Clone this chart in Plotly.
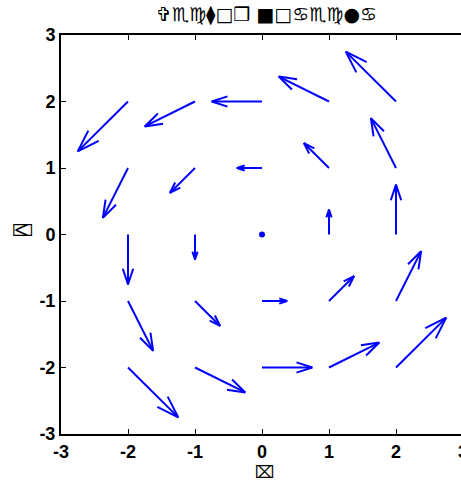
import math
import numpy as np
import plotly.graph_objects as go
import plotly.figure_factory as ff

# Grid of sample points
grid_x = [-2, -1, 0, 1, 2]
grid_y = [-2, -1, 0, 1, 2]

# Vector components (already in plotted length units); rows follow grid_y, columns grid_x
U = [
    [0.75, 0.75, 0.75, 0.75, 0.75],
    [0.375, 0.375, 0.375, 0.375, 0.375],
    [0.0, 0.0, 0.0, 0.0, 0.0],
    [-0.375, -0.375, -0.375, -0.375, -0.375],
    [-0.75, -0.75, -0.75, -0.75, -0.75],
]
V = [
    [-0.75, -0.375, 0.0, 0.375, 0.75],
    [-0.75, -0.375, 0.0, 0.375, 0.75],
    [-0.75, -0.375, 0.0, 0.375, 0.75],
    [-0.75, -0.375, 0.0, 0.375, 0.75],
    [-0.75, -0.375, 0.0, 0.375, 0.75],
]

tick_vals = [-3, -2, -1, 0, 1, 2, 3]
tick_text = ["-3", "-2", "-1", "0", "1", "2", "3"]

title_text = "✞♏♍⧫□❒ ■□♋♏♍●♋"
xlabel_text = "⌧"
ylabel_text = "⍓"

X, Y = np.meshgrid(grid_x, grid_y)
Uarr = np.array(U)
Varr = np.array(V)

fig = ff.create_quiver(
    X.ravel(), Y.ravel(), Uarr.ravel(), Varr.ravel(),
    scale=1.0, arrow_scale=0.33, angle=math.atan(0.33),
    line=dict(color="#0000ff", width=2),
)

# zero-length vectors show up as a single dot
zero = (Uarr.ravel() == 0) & (Varr.ravel() == 0)
fig.add_trace(go.Scatter(
    x=X.ravel()[zero], y=Y.ravel()[zero], mode="markers",
    marker=dict(color="#0000ff", size=6), hoverinfo="skip",
))

axis_common = dict(
    tickvals=tick_vals, ticktext=tick_text,
    showgrid=False, zeroline=False, showline=True, linecolor="black",
    linewidth=2, ticks="inside", ticklen=5, tickwidth=1,
    tickcolor="black", ticklabeloverflow="allow", automargin=False,
    tickfont=dict(family="Liberation Sans", size=18, color="black", weight="bold"),
)

FIG_W, FIG_H = 463, 483
L, R, T, B = 61, 0, 35, 49
PW, PH = FIG_W - L - R, FIG_H - T - B

fig.update_layout(
    width=FIG_W, height=FIG_H,
    margin=dict(l=L, r=R, t=T, b=B),
    paper_bgcolor="white", plot_bgcolor="white",
    showlegend=False,
    xaxis=dict(range=[-3, 3], mirror="ticks", **axis_common),
    yaxis=dict(range=[-3, 3], mirror=False, **axis_common),
)

# title and axis labels placed in paper coordinates
def px(xpix):
    return (xpix - L) / PW

def py(ypix):
    return (FIG_H - B - ypix) / PH

fig.add_annotation(text=title_text, xref="paper", yref="paper",
                   x=px(266), y=py(14),
                   xanchor="center", yanchor="middle", showarrow=False,
                   font=dict(family="DejaVu Sans", size=19, color="black"))
fig.add_annotation(text=xlabel_text, xref="paper", yref="paper",
                   x=px(265), y=py(472),
                   xanchor="center", yanchor="middle", showarrow=False,
                   font=dict(family="DejaVu Sans", size=17, color="black"))
fig.add_annotation(text=ylabel_text, xref="paper", yref="paper",
                   x=px(23), y=py(230), textangle=-90,
                   xanchor="center", yanchor="middle", showarrow=False,
                   font=dict(family="DejaVu Sans Mono", size=20, color="black"))

fig.write_html("out.html")
